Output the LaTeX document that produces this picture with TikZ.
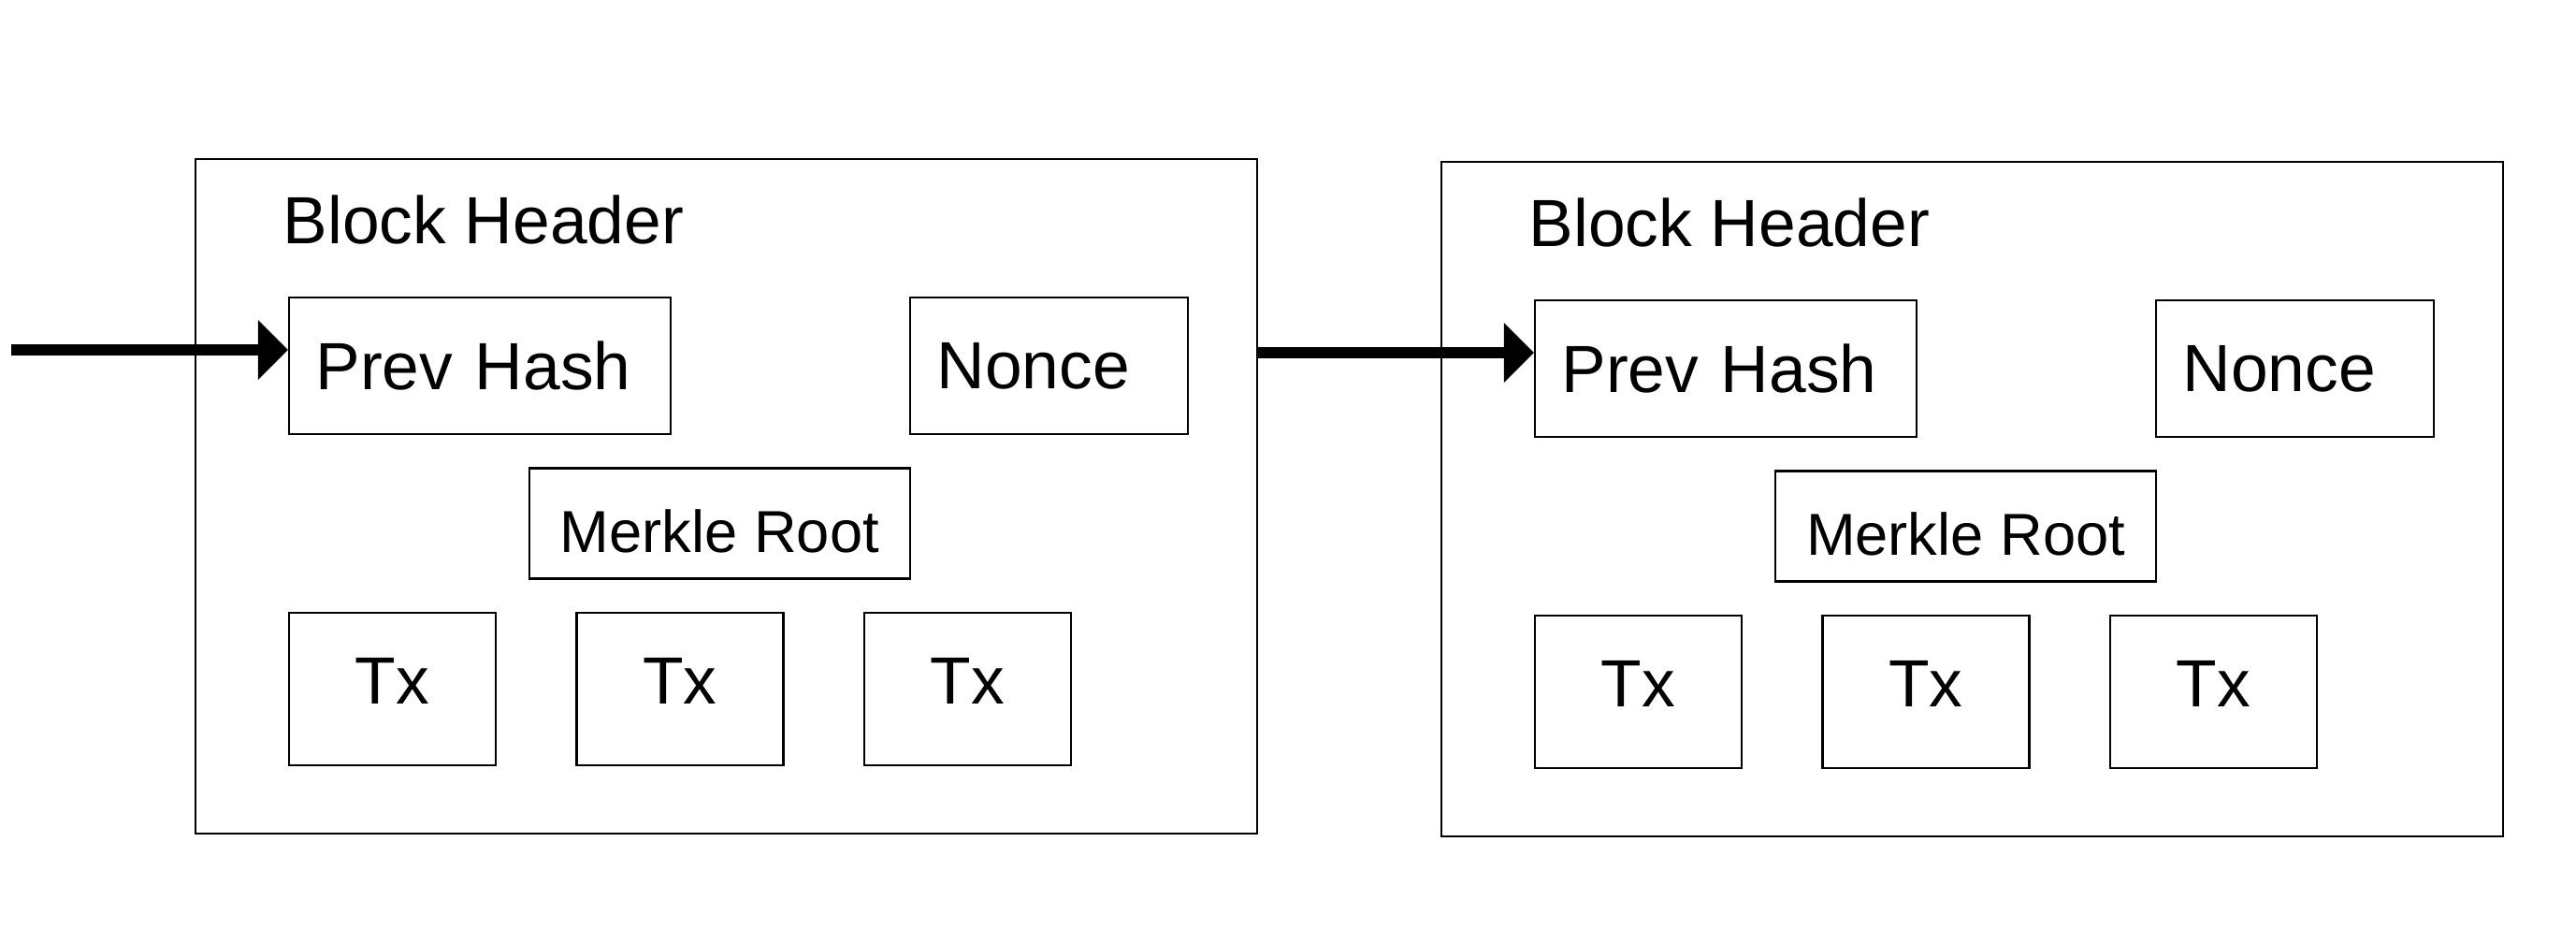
\documentclass[tikz,border=0pt]{standalone}
\usepackage{fontspec}
\setmainfont{Liberation Sans}
\usetikzlibrary{arrows.meta}
\newcommand{\bigtext}{\fontsize{20.3}{24}\selectfont}
\tikzset{blockbox/.style={rectangle, draw, line width=0.6pt, inner sep=0pt, minimum width=11.35cm, minimum height=7.21cm}}
\tikzset{headtext/.style={inner sep=0pt, anchor=base west, font=\bigtext}}
\tikzset{field/.style={rectangle, draw, line width=0.6pt, inner xsep=0.285cm, inner ysep=0pt, align=left, minimum height=1.46cm, font=\bigtext}}
\tikzset{rootbox/.style={rectangle, draw, line width=0.6pt, inner sep=0pt, text height=0.62cm, text depth=0cm, minimum width=4.07cm, minimum height=1.18cm, font=\fontsize{18}{22}\selectfont}}
\tikzset{txbox/.style={rectangle, draw, line width=0.6pt, inner sep=0pt, text height=0.31cm, text depth=0cm, minimum width=2.21cm, minimum height=1.63cm, font=\bigtext}}
\tikzset{link/.style={line width=3.4pt, -{Triangle[length=0.32cm,width=0.62cm]}}}

\begin{document}
\begin{tikzpicture}

\useasboundingbox (0,0) rectangle (27.54,9.92);

\node[blockbox] (blkA) at (7.765,4.615) {};
\node[headtext] (headA) at (3.02,7.32) {Block Header};
\node[field, text width=3.51cm] (hashA) at (5.13,6.01) {Prev Hash};
\node[field, text width=2.40cm] (nonceA) at (11.215,6.01) {Nonce};
\node[rootbox] (rootA) at (7.695,4.325) {Merkle Root};
\node[txbox] (txA1) at (4.195,2.555) {Tx};
\node[txbox] (txA2) at (7.27,2.555) {Tx};
\node[txbox] (txA3) at (10.345,2.555) {Tx};

\coordinate (inA) at (0.12,6.18);
\draw[link] (inA) -- (inA -| hashA.west);

\begin{scope}[shift={(13.32,-0.03)}]

\node[blockbox] (blkB) at (7.765,4.615) {};
\node[headtext] (headB) at (3.02,7.32) {Block Header};
\node[field, text width=3.51cm] (hashB) at (5.13,6.01) {Prev Hash};
\node[field, text width=2.40cm] (nonceB) at (11.215,6.01) {Nonce};
\node[rootbox] (rootB) at (7.695,4.325) {Merkle Root};
\node[txbox] (txB1) at (4.195,2.555) {Tx};
\node[txbox] (txB2) at (7.27,2.555) {Tx};
\node[txbox] (txB3) at (10.345,2.555) {Tx};

\coordinate (inB) at (3.09,6.18);

\end{scope}

\draw[link] (blkA.east |- inB) -- (inB -| hashB.west);

\end{tikzpicture}
\end{document}
